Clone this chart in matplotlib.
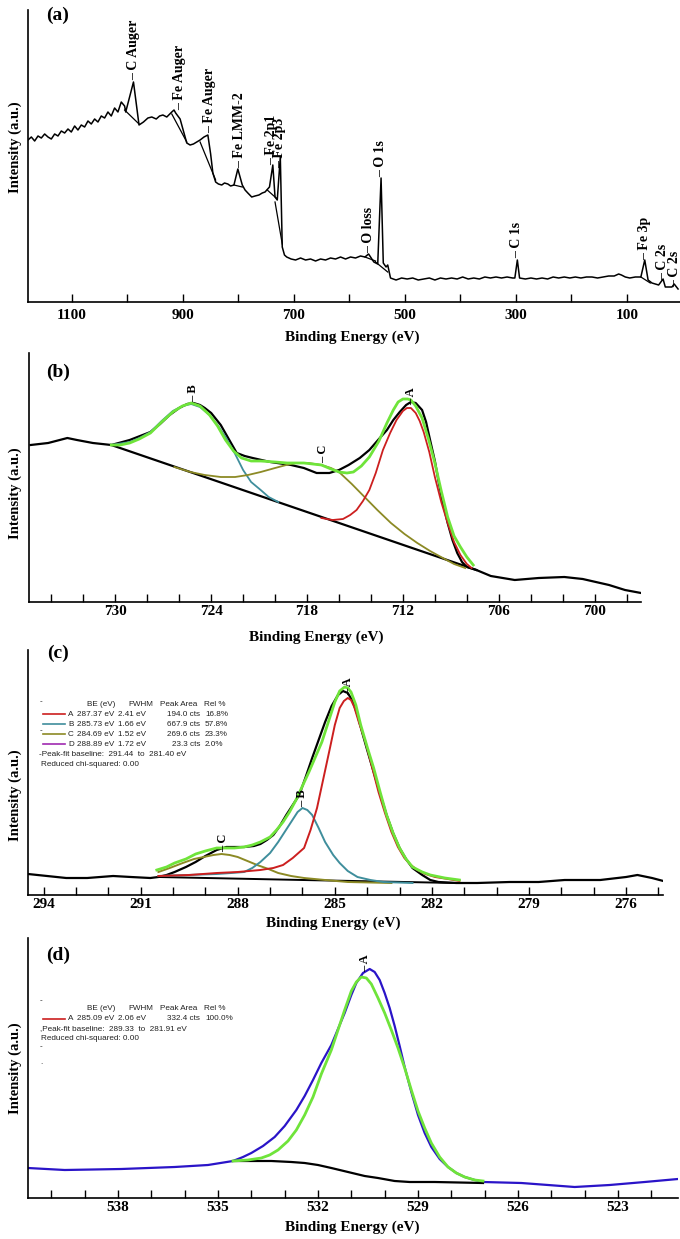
import numpy as np
import matplotlib
matplotlib.use("Agg")
import matplotlib.pyplot as plt
from matplotlib.lines import Line2D

nan = np.nan

# ---------------- (a) survey spectrum ----------------
a_be = [1179, 1173, 1167, 1161, 1155, 1149, 1143, 1137, 1131, 1125, 1119, 1113, 1107, 1101,
        1095, 1089, 1083, 1077, 1071, 1065, 1059, 1053, 1047, 1041, 1035, 1029, 1023, 1017, 1011,
        1005, 1003, 989, 979, 971, 963, 956, 948, 942, 936, 929, 920, 916, 913, 905, 901, 893,
        887, 881, 875, 869, 862, 855, 850, 846, 841, 836, 830, 825, 819, 814, 808, 801, 793,
        788, 783, 776, 770, 763, 757, 752, 744, 738, 734, 730, 724.5, 721, 717, 713, 705, 697,
        688, 679, 670, 661, 652, 643, 634, 625, 616, 607, 598, 589, 580, 572, 565.5, 556, 549,
        543, 539, 534, 531, 526, 516, 506, 496, 486, 476, 466, 456, 446, 436, 426, 416, 406,
        396, 386, 376, 366, 356, 346, 336, 326, 316, 306, 302, 297.5, 293.5, 283, 273, 263,
        253, 243, 233, 223, 213, 203, 193, 183, 173, 163, 153, 143, 133, 123, 115, 110, 103,
        95, 85, 75, 68, 62, 55, 43, 35, 31, 19, 15, 8]
a_int = [162, 165, 161, 166, 164, 168, 165, 163, 168, 166, 171, 169, 173, 170,
         176, 172, 177, 175, 181, 178, 183, 180, 186, 184, 190, 186, 194, 190, 200,
         196, 190, 220, 177, 180, 184, 185, 183, 186, 187, 185, 190, 192, 189, 183, 175, 159,
         157, 158, 160, 162, 165, 167, 148, 129, 120, 118, 117, 119, 118, 116, 117, 133, 117,
         112, 109, 105, 106, 107, 109, 110, 115, 137, 105, 102, 145, 55, 47, 45, 43, 42,
         44, 42, 43, 41, 43, 42, 44, 43, 45, 43, 45, 44, 46, 45, 48, 40, 38,
         124, 39, 35, 37, 24, 22, 24, 23, 24, 22, 23, 24, 22, 24, 23, 24, 23,
         25, 23, 24, 23, 25, 24, 25, 24, 25, 24, 24, 42, 24, 23, 24, 23,
         24, 23, 25, 24, 25, 24, 25, 24, 25, 25, 24, 25, 26, 26, 28, 27, 25,
         24, 25, 25, 42, 22, 19, 17, 23, 15, 15, 18, 13]
# bases drawn under the survey peaks
a_base_be = [1005, 979, nan, 920, 893, nan, 869, 841, nan, 808, 793, nan, 748, 730, nan,
             734, 721, nan, 572, 553, nan, 553, 531, nan, 75, 58]
a_base_int = [192, 178, nan, 188, 160, nan, 160, 122, nan, 117, 115, nan, 112, 103, nan,
              100, 58, nan, 45, 41, nan, 40, 30, nan, 25, 19]
a_peak_names = ["C Auger", "Fe Auger", "Fe Auger", "Fe LMM-2", "Fe 2p1", "Fe 2p3", "O loss",
                "O 1s", "C 1s", "Fe 3p", "C 2s", "C 2s"]
a_peak_be = [989, 905, 851, 797, 740, 725, 565, 543, 298, 68, 35, 15]
a_peak_int = [222, 192, 169, 134, 137, 134, 49, 125, 44, 42, 22, 15]
a_major = [1100, 900, 700, 500, 300, 100]
a_minor = [1000, 800, 600, 400, 200]

# ---------------- (b) Fe 2p ----------------
b_raw_be = [735.3, 734.2, 733.0, 732.4, 731.4, 730.25, 729.1, 727.8, 727.2, 726.6, 726.0,
            725.5, 725.1, 724.7, 724.4, 724.0, 723.4, 722.9, 722.4, 721.9, 721.4, 720.3, 719.0,
            718.2, 717.4, 716.6, 716.0, 715.4, 714.7, 714.1, 713.5, 713.0, 712.6, 712.2, 711.8,
            711.5, 711.2, 710.8, 710.55, 710.3, 710.0, 709.75, 709.5, 709.2, 708.9, 708.6,
            708.3, 708.0, 707.4, 706.5, 705.0, 703.5, 701.9, 700.75, 699.1, 698.1, 697.1]
b_raw_int = [157, 159, 164, 162, 159, 157, 162, 170, 178, 187, 194, 198, 199, 197, 194, 189,
             177, 163, 149, 146, 144, 140, 137, 134, 129, 129, 132, 137, 144, 152, 163, 172,
             182, 190, 197, 200, 199, 192, 180, 162, 141, 119, 99, 79, 62, 49, 40, 35, 32, 26,
             22, 24, 25, 23, 17, 12, 9]
b_bg_be = [730.25, 707.4]
b_bg_int = [157, 32]
b_env_be = [730.25, 729.7, 729.1, 728.5, 727.8, 727.1, 726.4, 725.8, 725.25, 724.7, 724.1,
            723.6, 723.1, 722.6, 722.1, 721.5, 720.9, 720.0, 719.25, 718.2, 717.1, 716.5,
            716.0, 715.5, 715.1, 714.6, 714.1, 713.5, 713.0, 712.6, 712.3, 712.0, 711.7,
            711.5, 711.2, 710.8, 710.4, 710.0, 709.6, 709.2, 708.8, 708.4, 708.0, 707.6]
b_env_int = [157, 157, 159, 163, 169, 180, 190, 196, 199, 196, 187, 176, 162, 151, 144, 141,
             141, 140, 139, 139, 137, 133, 130, 129, 130, 136, 145, 161, 179, 192, 200, 203,
             203, 202, 196, 184, 163, 139, 111, 85, 66, 55, 45, 37]
b_B_be = [730.25, 729.1, 728.5, 727.8, 727.1, 726.4, 725.8, 725.25, 724.7, 724.1, 723.6,
          723.1, 722.5, 722.0, 721.5, 720.9, 720.4, 719.8]
b_B_int = [157, 160, 164, 170, 181, 191, 196, 198, 195, 187, 177, 165, 148, 132, 120, 112,
           105, 100]
b_C_be = [726.3, 725.3, 724.4, 723.4, 722.5, 721.7, 720.9, 720.0, 719.3, 718.7, 717.9, 717.1,
          716.5, 716.0, 715.2, 714.4, 713.6, 712.75, 711.9, 711.1, 710.3, 709.5, 708.8, 708.1]
b_C_int = [135, 130, 127, 125, 125, 127, 130, 134, 137, 139, 139, 137, 134, 130, 118, 105, 92,
           79, 68, 59, 51, 44, 38, 34]
b_A_be = [717.1, 716.4, 715.75, 715.3, 714.9, 714.5, 714.1, 713.7, 713.25, 712.8, 712.4,
          712.0, 711.75, 711.5, 711.2, 710.95, 710.7, 710.35, 710.0, 709.6, 709.2, 708.8,
          708.4, 708.0, 707.7]
b_A_int = [84, 82, 83, 87, 92, 101, 112, 129, 152, 169, 182, 191, 194, 194, 189, 181, 170,
           150, 125, 100, 79, 60, 47, 38, 34]
b_peak_names = ["B", "C", "A"]
b_peak_be = [725.1, 717.0, 711.5]
b_peak_int = [200, 139, 197]
b_major = [730, 724, 718, 712, 706, 700]
b_minor = [734, 732, 728, 726, 722, 720, 716, 714, 710, 708, 704, 702, 698]

# ---------------- (c) C 1s ----------------
c_raw_be = [294.48, 293.3, 292.65, 291.85, 291.3, 290.7, 290.45, 290.2, 289.95, 289.6, 289.3,
            289.0, 288.65, 288.35, 288.0, 287.8, 287.5, 287.3, 287.1, 286.9, 286.7, 286.5,
            286.3, 286.1, 285.9, 285.7, 285.5, 285.3, 285.1, 284.9, 284.75, 284.6, 284.45,
            284.3, 284.15, 284.0, 283.8, 283.6, 283.4, 283.2, 283.0, 282.8, 282.6, 282.3,
            282.05, 281.8, 281.25, 280.6, 279.6, 278.7, 277.9, 276.8, 276.0, 275.65, 275.2,
            274.85]
c_raw_int = [21, 17, 17, 19, 18, 17, 18, 20, 23, 28, 33, 39, 45, 48, 48, 48, 49, 51, 55, 60,
             69, 80, 90, 100, 118, 137, 155, 173, 189, 200, 204, 202, 194, 180, 162, 145, 123,
             101, 80, 62, 47, 36, 27, 20, 15, 13, 12, 12, 13, 13, 15, 15, 18, 20, 17, 14]
c_bg_be = [290.45, 286.0, 281.25]
c_bg_int = [18, 15, 12]
c_env_be = [290.5, 290.2, 289.95, 289.6, 289.3, 289.0, 288.65, 288.35, 288.1, 287.8, 287.55,
            287.3, 287.0, 286.8, 286.6, 286.4, 286.2, 286.0, 285.8, 285.6, 285.4, 285.2, 285.0,
            284.85, 284.7, 284.6, 284.5, 284.35, 284.2, 284.0, 283.8, 283.6, 283.4, 283.2,
            283.0, 282.8, 282.6, 282.3, 282.05, 281.6, 281.15]
c_env_int = [25, 28, 32, 36, 41, 44, 47, 47, 47, 48, 50, 53, 58, 65, 73, 83, 95, 109, 123,
             138, 153, 173, 193, 204, 208, 207, 203, 190, 170, 148, 127, 103, 80, 62, 47, 36,
             28, 23, 20, 17, 15]
c_A_be = [290.45, 289.5, 288.65, 288.0, 287.3, 286.9, 286.6, 286.3, 285.95, 285.75, 285.55,
          285.35, 285.15, 285.0, 284.85, 284.72, 284.6, 284.5, 284.4, 284.25, 284.05, 283.85,
          283.65, 283.45, 283.25, 283.05, 282.85, 282.65, 282.45, 282.2, 281.9, 281.5, 281.15]
c_A_int = [19, 20, 22, 23, 25, 27, 30, 37, 47, 65, 87, 117, 147, 170, 187, 194, 197, 195, 188,
           172, 153, 128, 103, 82, 63, 48, 37, 30, 25, 21, 18, 16, 14]
c_B_be = [290.45, 288.65, 288.2, 287.8, 287.55, 287.3, 287.0, 286.75, 286.55, 286.35, 286.15,
          286.0, 285.85, 285.7, 285.5, 285.3, 285.05, 284.85, 284.6, 284.3, 283.9, 283.5, 282.6]
c_B_int = [19, 21, 22, 23, 27, 33, 42, 53, 63, 73, 83, 87, 85, 80, 67, 53, 40, 32, 24, 18, 15,
           13, 12]
c_C_be = [290.45, 290.1, 289.7, 289.35, 289.05, 288.75, 288.5, 288.25, 288.0, 287.7, 287.4,
          287.05, 286.75, 286.35, 285.95, 285.3, 284.6, 283.25]
c_C_int = [23, 27, 32, 36, 38, 40, 41, 40, 38, 34, 30, 26, 22, 19, 17, 15, 13, 12]
c_peak_names = ["A", "B", "C"]
c_peak_be = [284.6, 286.0, 288.45]
c_peak_int = [200, 88, 43]
c_major = [294, 291, 288, 285, 282, 279, 276]
c_minor = [293, 292, 290, 289, 287, 286, 284, 283, 281, 280, 278, 277, 275]
c_leg_names = ["A", "B", "C", "D"]
c_leg_be = ["287.37 eV", "285.73 eV", "284.69 eV", "288.89 eV"]
c_leg_fwhm = ["2.41 eV", "1.66 eV", "1.52 eV", "1.72 eV"]
c_leg_area = ["194.0 cts", "667.9 cts", "269.6 cts", "23.3 cts"]
c_leg_rel = ["16.8%", "57.8%", "23.3%", "2.0%"]

# ---------------- (d) O 1s ----------------
d_raw_be = [540.7, 539.6, 537.9, 536.3, 535.3, 534.55, 534.25, 534.0, 533.65, 533.3, 533.0,
            532.65, 532.4, 532.15, 531.9, 531.6, 531.4, 531.2, 531.0, 530.85, 530.65, 530.45,
            530.3, 530.15, 530.0, 529.85, 529.7, 529.55, 529.4, 529.2, 529.0, 528.8, 528.6,
            528.35, 528.1, 527.85, 527.6, 527.3, 527.05, 525.9, 524.3, 523.25, 522.2, 521.2]
d_raw_int = [30, 28, 29, 31, 33, 37, 41, 45, 52, 61, 72, 88, 102, 118, 135, 153, 169, 185,
             203, 215, 225, 229, 226, 218, 205, 190, 172, 152, 131, 106, 83, 65, 51, 39, 31,
             25, 21, 18, 16, 15, 11, 13, 16, 19]
d_bg_be = [534.55, 534.0, 533.4, 532.8, 532.4, 532.0, 531.6, 531.1, 530.6, 530.2, 529.7,
           529.25, 528.5, 527.05]
d_bg_int = [37, 37, 37, 36, 35, 33, 30, 26, 22, 20, 17, 16, 16, 15]
d_env_be = [534.55, 534.1, 533.7, 533.45, 533.2, 532.9, 532.65, 532.4, 532.15, 531.9, 531.6,
            531.4, 531.2, 531.0, 530.85, 530.7, 530.55, 530.4, 530.2, 530.0, 529.8, 529.6,
            529.4, 529.2, 529.0, 528.8, 528.6, 528.35, 528.1, 527.85, 527.6, 527.3, 527.05]
d_env_int = [37, 38, 40, 43, 48, 57, 68, 83, 101, 124, 148, 168, 188, 207, 216, 221, 220, 214,
             200, 185, 168, 150, 130, 108, 87, 70, 55, 41, 31, 25, 21, 18, 17]
d_peak_names = ["A"]
d_peak_be = [530.6]
d_peak_int = [226]
d_major = [538, 535, 532, 529, 526, 523]
d_minor = [540, 539, 537, 536, 534, 533, 531, 530, 528, 527, 525, 524, 522]

RED, TEAL, OLIVE, PURPLE = "#cc1f1f", "#3f8e9c", "#8c8a25", "#a02ab0"
GREEN, BLUE = "#6fe43a", "#2a14c8"
SERIF = "Liberation Serif"
SANS = "Liberation Sans"

W, H = 680, 1239
fig = plt.figure(figsize=(6.8, 12.39), dpi=100)


def box(l, t, r, b):
    return [l / W, 1 - b / H, (r - l) / W, (b - t) / H]


def ftext(x, y, s, **kw):
    fig.text(x / W, 1 - y / H, s, **kw)


def style(ax, xlim, ylim, major, minor, pad):
    ax.set_xlim(*xlim)
    ax.set_ylim(*ylim)
    for s in ["top", "right"]:
        ax.spines[s].set_visible(False)
    for s in ["left", "bottom"]:
        ax.spines[s].set_linewidth(1.2)
    ax.set_yticks([])
    ax.set_xticks(major)
    ax.set_xticks(minor, minor=True)
    ax.tick_params(axis="x", which="both", direction="in", length=6, width=1, pad=pad)
    for lab in ax.get_xticklabels():
        lab.set_fontfamily(SERIF)
        lab.set_fontweight("bold")
        lab.set_fontsize(11)


def peak_labels(ax, names, be, inten, size=10):
    for n, x, y in zip(names, be, inten):
        ax.text(x, y, "\u2013 " + n, rotation=90, ha="center", va="bottom",
                fontsize=size, fontfamily=SERIF, fontweight="bold")


# (a)
ax = fig.add_axes(box(28, 10, 680, 302))
ax.plot(a_be, a_int, color="black", lw=1.1)
ax.plot(a_base_be, a_base_int, color="black", lw=0.9)
peak_labels(ax, a_peak_names, a_peak_be, a_peak_int)
style(ax, (1179, 4.5), (0, 292), a_major, a_minor, 5)

# (b)
ax = fig.add_axes(box(29, 353, 641, 602))
ax.plot(b_raw_be, b_raw_int, color="black", lw=1.6)
ax.plot(b_bg_be, b_bg_int, color="black", lw=1.6)
ax.plot(b_B_be, b_B_int, color=TEAL, lw=1.3)
ax.plot(b_C_be, b_C_int, color=OLIVE, lw=1.3)
ax.plot(b_A_be, b_A_int, color=RED, lw=1.3)
ax.plot(b_env_be, b_env_int, color=GREEN, lw=2.0)
peak_labels(ax, b_peak_names, b_peak_be, b_peak_int, 9)
style(ax, (735.4, 697.1), (0, 249), b_major, b_minor, 2.5)

# (c)
ax = fig.add_axes(box(28, 650, 663, 895))
ax.plot(c_raw_be, c_raw_int, color="black", lw=1.6)
ax.plot(c_bg_be, c_bg_int, color="black", lw=1.4)
ax.plot(c_C_be, c_C_int, color=OLIVE, lw=1.4)
ax.plot(c_B_be, c_B_int, color=TEAL, lw=1.4)
ax.plot(c_A_be, c_A_int, color=RED, lw=1.4)
ax.plot(c_env_be, c_env_int, color=GREEN, lw=2.0)
peak_labels(ax, c_peak_names, c_peak_be, c_peak_int, 9)
style(ax, (294.48, 274.86), (0, 245), c_major, c_minor, 2)

# (d)
ax = fig.add_axes(box(28, 938, 678, 1198))
ax.plot(d_raw_be, d_raw_int, color=BLUE, lw=1.6)
ax.plot(d_bg_be, d_bg_int, color="black", lw=1.6)
ax.plot(d_env_be, d_env_int, color=GREEN, lw=2.0)
peak_labels(ax, d_peak_names, d_peak_be, d_peak_int, 9)
style(ax, (540.7, 521.2), (0, 260), d_major, d_minor, 2)

# panel letters, axis titles
bold = dict(fontfamily=SERIF, fontweight="bold", ha="center", va="center")
for s, y in zip(["(a)", "(b)", "(c)", "(d)"], [15, 372, 653, 955]):
    ftext(58, y, s, fontsize=14, **bold)
for y in [147, 493, 795, 1068]:
    ftext(15, y, "Intensity (a.u.)", fontsize=10.5, rotation=90, **bold)
for x, y in zip([352, 316, 333, 352], [337, 637, 923, 1227]):
    ftext(x, y, "Binding Energy (eV)", fontsize=11, **bold)

# fit tables
small = dict(fontfamily=SANS, fontsize=5.9, color="#222222", va="center")


def table_header(y):
    ftext(87, y, "BE (eV)", **small)
    ftext(128, y, "FWHM", **small)
    ftext(160, y, "Peak Area", **small)
    ftext(204, y, "Rel %", **small)


def table_row(y, color, name, be, fwhm, area, rel):
    fig.add_artist(Line2D([43 / W, 65 / W], [1 - y / H] * 2, color=color, lw=1.2))
    ftext(68, y, name, **small)
    ftext(77, y, be, **small)
    ftext(118, y, fwhm, **small)
    ftext(200, y, area, ha="right", **small)
    ftext(205, y, rel, **small)


ftext(40, 702, "-", **small)
table_header(704)
for i, col in enumerate([RED, TEAL, OLIVE, PURPLE]):
    table_row(714 + 10 * i, col, c_leg_names[i], c_leg_be[i], c_leg_fwhm[i],
              c_leg_area[i], c_leg_rel[i])
ftext(40, 731, "-", **small)
ftext(39, 754, "-Peak-fit baseline:  291.44  to  281.40 eV", **small)
ftext(41, 764, "Reduced chi-squared: 0.00", **small)

ftext(40, 1001, "-", **small)
table_header(1009)
table_row(1019, RED, "A", "285.09 eV", "2.06 eV", "332.4 cts", "100.0%")
ftext(40, 1029, ",Peak-fit baseline:  289.33  to  281.91 eV", **small)
ftext(41, 1039, "Reduced chi-squared: 0.00", **small)
ftext(40, 1047, "-", **small)
ftext(40, 1063, ".", **small)

fig.savefig("out.png", dpi=100, facecolor="white")
